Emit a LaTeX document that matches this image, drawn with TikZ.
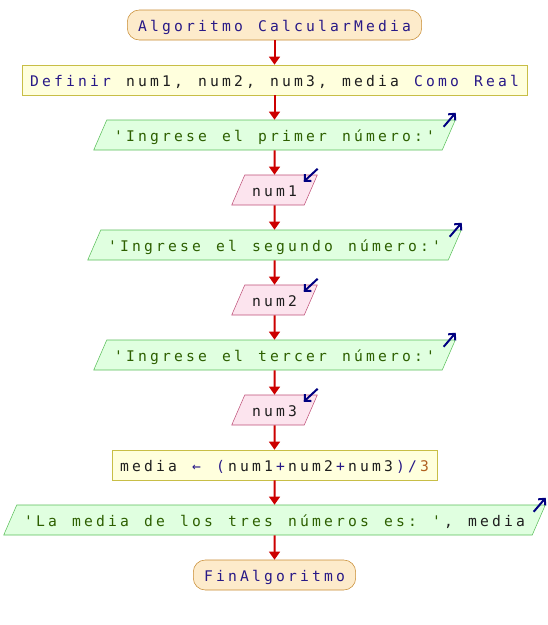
\documentclass[tikz,border=0pt]{standalone}
\usepackage{fontspec}
\setmonofont[LetterSpace=21.6]{DejaVu Sans Mono}
\usetikzlibrary{shapes.geometric,arrows.meta}

\definecolor{termfill}{RGB}{253,235,203}
\definecolor{termline}{RGB}{200,140,50}
\definecolor{procfill}{RGB}{255,255,221}
\definecolor{procline}{RGB}{200,190,70}
\definecolor{outfill}{RGB}{224,255,224}
\definecolor{outline}{RGB}{90,190,90}
\definecolor{infill}{RGB}{252,228,238}
\definecolor{inline}{RGB}{190,80,120}
\definecolor{flowred}{RGB}{204,0,0}
\definecolor{iconblue}{RGB}{0,0,128}
\definecolor{kwcol}{RGB}{40,25,135}
\definecolor{strcol}{RGB}{45,95,0}
\definecolor{numcol}{RGB}{176,96,32}
\definecolor{txtcol}{RGB}{30,30,30}

\newcommand{\nodefont}{\ttfamily\fontsize{11}{12}\selectfont\spaceskip=11.38pt\relax}
\newcommand{\lsk}{\kern2.38pt}
\newcommand{\kw}[1]{\textcolor{kwcol}{#1}}
\newcommand{\op}[1]{\lsk\textcolor{kwcol}{#1}\lsk}
\newcommand{\lit}[1]{\textcolor{strcol}{#1}}
\newcommand{\nlit}[1]{\textcolor{numcol}{#1}}

\tikzset{
  base/.style={font=\nodefont, text=txtcol, text height=9pt, text depth=0pt, inner ysep=6.75pt},
  term/.style={base, draw=termline, fill=termfill, rounded corners=9pt, inner xsep=8.1pt},
  proc/.style={base, draw=procline, fill=procfill, inner xsep=6.2pt},
  para/.style={base, trapezium, trapezium left angle=66.5, trapezium right angle=113.5,
    inner xsep=5.5pt},
  outp/.style={para, draw=outline, fill=outfill},
  inp/.style={para, draw=inline, fill=infill},
  flow/.style={draw=flowred, line width=1.5pt, -{Triangle[length=6pt,width=8pt]}},
  icon/.style={draw=iconblue, line width=1.5pt, -{Straight Barb[length=3.5pt,width=7pt]}}
}

\begin{document}
\begin{tikzpicture}[x=0.75pt,y=-0.75pt]
\useasboundingbox (0,0) rectangle (548,625);

\node[term] (inicio) at (274.5,25) {\kw{Algoritmo CalcularMedia}};
\node[proc] (definir) at (274.5,80) {\kw{Definir} num1, num2, num3, media \kw{Como Real}};
\node[outp] (msg1) at (274.5,135) {\lit{'Ingrese el primer número:'}};
\node[inp] (lee1) at (274.5,190) {num1};
\node[outp] (msg2) at (274.5,245) {\lit{'Ingrese el segundo número:'}};
\node[inp] (lee2) at (274.5,300) {num2};
\node[outp] (msg3) at (274.5,355) {\lit{'Ingrese el tercer número:'}};
\node[inp] (lee3) at (274.5,410) {num3};
\node[proc] (calc) at (274.5,465) {media \kw{←} \kw{(}\lsk num1\op{+}num2\op{+}num3\op{)/}\nlit{3}};
\node[outp] (res) at (274.5,520) {\lit{'La media de los tres números es: '}\lsk, media};
\node[term] (fin) at (274.5,575) {\kw{FinAlgoritmo}};

% flechas del flujo
\foreach \a/\b in {inicio/definir, definir/msg1, msg1/lee1, lee1/msg2, msg2/lee2,
    lee2/msg3, msg3/lee3, lee3/calc, calc/res, res/fin} {
  \draw[flow] (\a.south) -- (\b.north);
}

% iconos de escritura y lectura
\foreach \n in {msg1, msg2, msg3, res} {
  \draw[icon] ([shift={(-12,7)}]\n.top right corner) -- ([shift={(0,-7)}]\n.top right corner);
}
\foreach \n in {lee1, lee2, lee3} {
  \draw[icon] ([shift={(0,-6)}]\n.top right corner) -- ([shift={(-14,7)}]\n.top right corner);
}
\end{tikzpicture}
\end{document}
